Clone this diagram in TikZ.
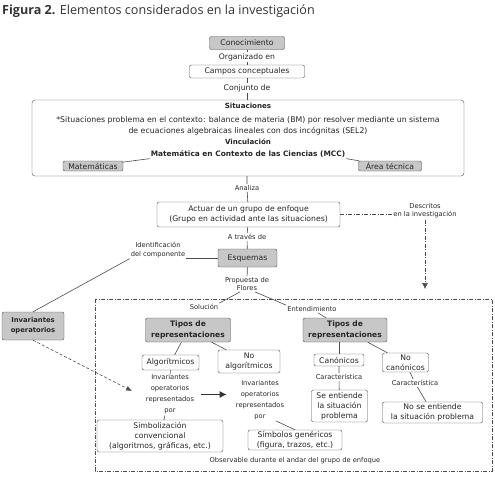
\documentclass[tikz,border=0pt]{standalone}
\usepackage{fontspec}
\setmainfont{DejaVu Sans}
\newfontfamily\titlefont{Open Sans}
\usepackage{tikz}
\usetikzlibrary{arrows.meta}

\begin{document}
\begin{tikzpicture}[x=1pt, y=-1pt,
  txt/.style={font=\fontsize{7.7}{10}\selectfont, text=black!85, align=center, inner sep=1pt},
  sml/.style={txt, font=\fontsize{6.7}{8.2}\selectfont},
  bld/.style={txt, font=\bfseries\fontsize{7.1}{10}\selectfont},
  box/.style={txt, draw=black!70, rounded corners=2pt, fill=white, inner sep=0pt},
  gbox/.style={box, fill=black!22},
  tbox/.style={gbox, font=\bfseries\fontsize{7.5}{10.5}\selectfont},
  conn/.style={draw=black!70, line width=0.6pt},
  frame/.style={conn, dash pattern=on 4pt off 1.5pt on 1pt off 1.5pt}]

  \useasboundingbox (0,0) rectangle (495,480);

  \node[anchor=west, inner sep=0pt, text=black!80, font=\titlefont\fontsize{12.6}{14}\selectfont] (title) at (2,11)
    {\textbf{Figura 2.} Elementos considerados en la investigación};

  % top chain
  \node[gbox, minimum width=75, minimum height=13] (cono) at (247,43) {Conocimiento};
  \node[txt] (org) at (247,57) {Organizado en};
  \node[box, minimum width=115, minimum height=13] (campos) at (247,71.5) {Campos conceptuales};
  \node[txt] (conj) at (247,88) {Conjunto de};

  % situaciones
  \node[box, minimum width=432, minimum height=76, rounded corners=3pt] (sit) at (248,138) {};
  \node[bld] (sittit) at (248,106) {Situaciones};
  \node[txt, font=\fontsize{7.8}{11}\selectfont] (sitdesc) at (248,125.5)
    {*Situaciones problema en el contexto: balance de materia (BM) por resolver mediante un sistema\\
     de ecuaciones algebraicas lineales con dos incógnitas (SEL2)};
  \node[bld] (vinc) at (248,142) {Vinculación};
  \node[bld, font=\bfseries\fontsize{7.4}{10}\selectfont] (mcc) at (248,154) {Matemática en Contexto de las Ciencias (MCC)};
  \node[gbox, minimum width=60, minimum height=10] (mate) at (93,166) {Matemáticas};
  \node[gbox, minimum width=63, minimum height=10] (area) at (390,166) {Área técnica};

  \node[sml] (analiza) at (247,188) {Analiza};
  \node[box, minimum width=183, minimum height=25] (actuar) at (248.5,214.5)
    {Actuar de un grupo de enfoque\\(Grupo en actividad ante las situaciones)};
  \node[sml] (descr) at (425,211) {Descritos\\en la investigación};
  \coordinate (dtip) at (425,289);
  \node[sml] (atraves) at (247,237) {A través de};
  \node[gbox, minimum width=59, minimum height=18] (esq) at (247.5,258) {Esquemas};
  \node[sml] (ident) at (158,250) {Identificación\\del componente};
  \node[gbox, font=\bfseries\fontsize{6.8}{10}\selectfont, minimum width=62, minimum height=28] (inv) at (33,326)
    {Invariantes\\operatorios};
  \node[sml] (prop) at (247,284) {Propuesta de\\Flores};

  % observable part
  \draw[frame] (95,299) rectangle (492,471);
  \node[sml] (solu) at (204,307) {Solución};
  \node[sml] (entend) at (312,309) {Entendimiento};
  \node[tbox, minimum width=85, minimum height=24] (tipos1) at (188,330) {Tipos de\\representaciones};
  \node[tbox, minimum width=84, minimum height=24] (tipos2) at (345,330) {Tipos de\\representaciones};

  \node[box, minimum width=57, minimum height=15] (algo) at (170.5,362.5) {Algorítmicos};
  \node[box, minimum width=62, minimum height=23] (noalgo) at (249,361.5) {No\\algorítmicos};
  \node[sml, font=\fontsize{6.7}{11}\selectfont] (inv1) at (170,394.5) {Invariantes\\operatorios\\representados\\por};
  \node[sml, font=\fontsize{6.7}{11}\selectfont] (inv2) at (260,400) {Invariantes\\operatorios\\representados\\por};
  \coordinate (itip) at (132,391);
  \node[box, minimum width=126, minimum height=32] (simb) at (160,436)
    {Simbolización\\convencional\\(algoritmos, gráficas, etc.)};
  \node[box, minimum width=94, minimum height=20] (simgen) at (295,440)
    {Símbolos genéricos\\(figura, trazos, etc.)};
  \node[sml] (obs) at (295,461) {Observable durante el andar del grupo de enfoque};

  \node[box, minimum width=50, minimum height=12] (canon) at (339,360) {Canónicos};
  \node[box, minimum width=46, minimum height=19] (nocanon) at (405.5,362.5) {No\\canónicos};
  \node[sml] (car1) at (339,377) {Característica};
  \node[sml] (car2) at (415,383) {Característica};
  \node[box, minimum width=56, minimum height=32] (seent) at (339.5,406) {Se entiende\\la situación\\problema};
  \node[box, minimum width=100, minimum height=21] (noseent) at (432.5,412.5) {No se entiende\\la situación problema};

  % connectors
  \draw[conn] (cono) -- (org) -- (campos) -- (conj) -- (conj |- sit.north);
  \draw[conn] (sit.south -| analiza) -- (analiza) -- (actuar) -- (atraves) -- (esq) -- (prop);
  \draw[conn] (mate) -- (mcc.south west);
  \draw[conn] (area) -- (mcc.south east);
  \draw[frame] (actuar.east) -- (actuar.east -| descr.west);
  \draw[frame, -{Latex[length=6pt, width=6pt]}] (descr) -- (dtip);
  \draw[conn] (esq.west) -- (esq.west -| ident.east);
  \draw[conn] (ident.south west) -- (inv.north);
  \draw[conn, densely dashed, -{Latex[length=6pt, width=5pt]}] (inv.south) -- (itip);
  \draw[conn] ([xshift=-7pt]prop.south) -- (solu.north east);
  \draw[conn] ([xshift=8pt]prop.south) -- (entend.north west);
  \draw[conn] (entend) -- (tipos2);
  \draw[conn] (tipos1) -- (algo);
  \draw[conn] (tipos1) -- (noalgo);
  \draw[conn] (algo) -- (inv1) -- (simb);
  \draw[line width=1.2pt, black!80, -{Latex[length=7pt, width=7pt]}] ([xshift=6pt]inv1.east) -- ([xshift=-8pt]inv1.east -| inv2.west);
  \draw[conn] ([xshift=16pt]inv2.south) -- (simgen.north);
  \draw[conn] (canon.north) -- (canon.north |- tipos2.south);
  \draw[conn] (tipos2) -- (nocanon);
  \draw[conn] (canon) -- (car1) -- (seent);
  \draw[conn] (nocanon) -- (car2) -- (noseent);
\end{tikzpicture}
\end{document}
